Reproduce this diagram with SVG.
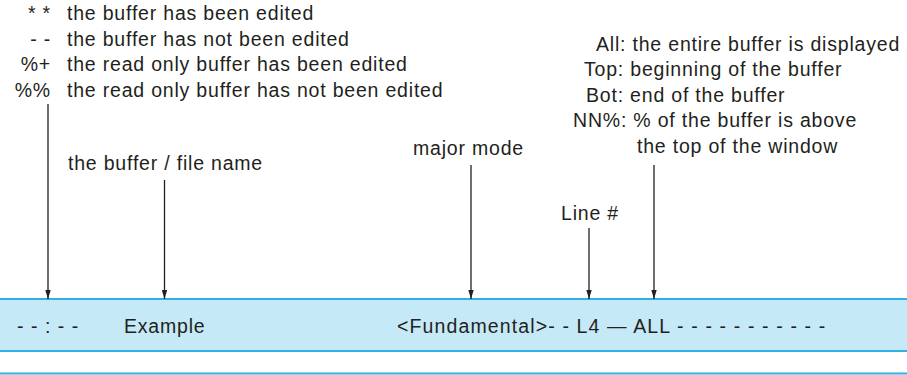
<svg xmlns="http://www.w3.org/2000/svg" width="907" height="375" viewBox="0 0 907 375">
  <defs>
    <style>
      .t { font-family: "Liberation Sans", Arial, Helvetica, sans-serif; font-size: 19.5px; fill: #231f20; letter-spacing: 0.8px; }
      .conn { stroke: #231f20; stroke-width: 1.3; fill: none; marker-end: url(#head); }
      .rule { stroke: #2fb0e6; stroke-width: 2; }
    </style>
    <marker id="head" viewBox="0 0 10 6" refX="10" refY="3" markerWidth="9" markerHeight="6" markerUnits="userSpaceOnUse" orient="auto">
      <path d="M0,0 L10,3 L0,6 Z" fill="#231f20"/>
    </marker>
  </defs>

  <!-- mode line bar -->
  <g id="modeline">
    <rect x="0" y="299" width="907" height="52" fill="#c6e9f8"/>
    <line class="rule" x1="0" y1="299" x2="907" y2="299"/>
    <line class="rule" x1="0" y1="351" x2="907" y2="351"/>
    <line class="rule" x1="0" y1="373.5" x2="907" y2="373.5"/>
    <text class="t" x="17" y="333" textLength="62">- - : - -</text>
    <text class="t" x="124" y="333">Example</text>
    <text class="t" x="397" y="333" textLength="429">&lt;Fundamental&gt;- - L4 — ALL - - - - - - - - - - -</text>
  </g>

  <!-- modification status legend -->
  <g id="status-legend">
    <text class="t" x="51" y="20" text-anchor="end">* *</text>
    <text class="t" x="67" y="20">the buffer has been edited</text>
    <text class="t" x="51" y="45.5" text-anchor="end">- -</text>
    <text class="t" x="67" y="45.5">the buffer has not been edited</text>
    <text class="t" x="51" y="71" text-anchor="end">%+</text>
    <text class="t" x="67" y="71">the read only buffer has been edited</text>
    <text class="t" x="51" y="96.5" text-anchor="end">%%</text>
    <text class="t" x="67" y="96.5">the read only buffer has not been edited</text>
  </g>

  <g id="buffer-name">
    <text class="t" x="68" y="170">the buffer / file name</text>
  </g>

  <g id="major-mode">
    <text class="t" x="413" y="155">major mode</text>
  </g>

  <g id="line-number">
    <text class="t" x="561" y="220">Line #</text>
  </g>

  <!-- position indicator legend -->
  <g id="position-legend">
    <text class="t" x="596" y="50.5">All: the entire buffer is displayed</text>
    <text class="t" x="584" y="76">Top: beginning of the buffer</text>
    <text class="t" x="586" y="101.5">Bot: end of the buffer</text>
    <text class="t" x="573" y="127">NN%: % of the buffer is above</text>
    <text class="t" x="637" y="152.5">the top of the window</text>
  </g>

  <!-- pointers down to the mode line -->
  <g id="connectors">
    <line class="conn" x1="48" y1="104" x2="48" y2="299"/>
    <line class="conn" x1="164.5" y1="180" x2="164.5" y2="299"/>
    <line class="conn" x1="471" y1="165" x2="471" y2="299"/>
    <line class="conn" x1="589" y1="228" x2="589" y2="299"/>
    <line class="conn" x1="654" y1="165" x2="654" y2="299"/>
  </g>
</svg>
